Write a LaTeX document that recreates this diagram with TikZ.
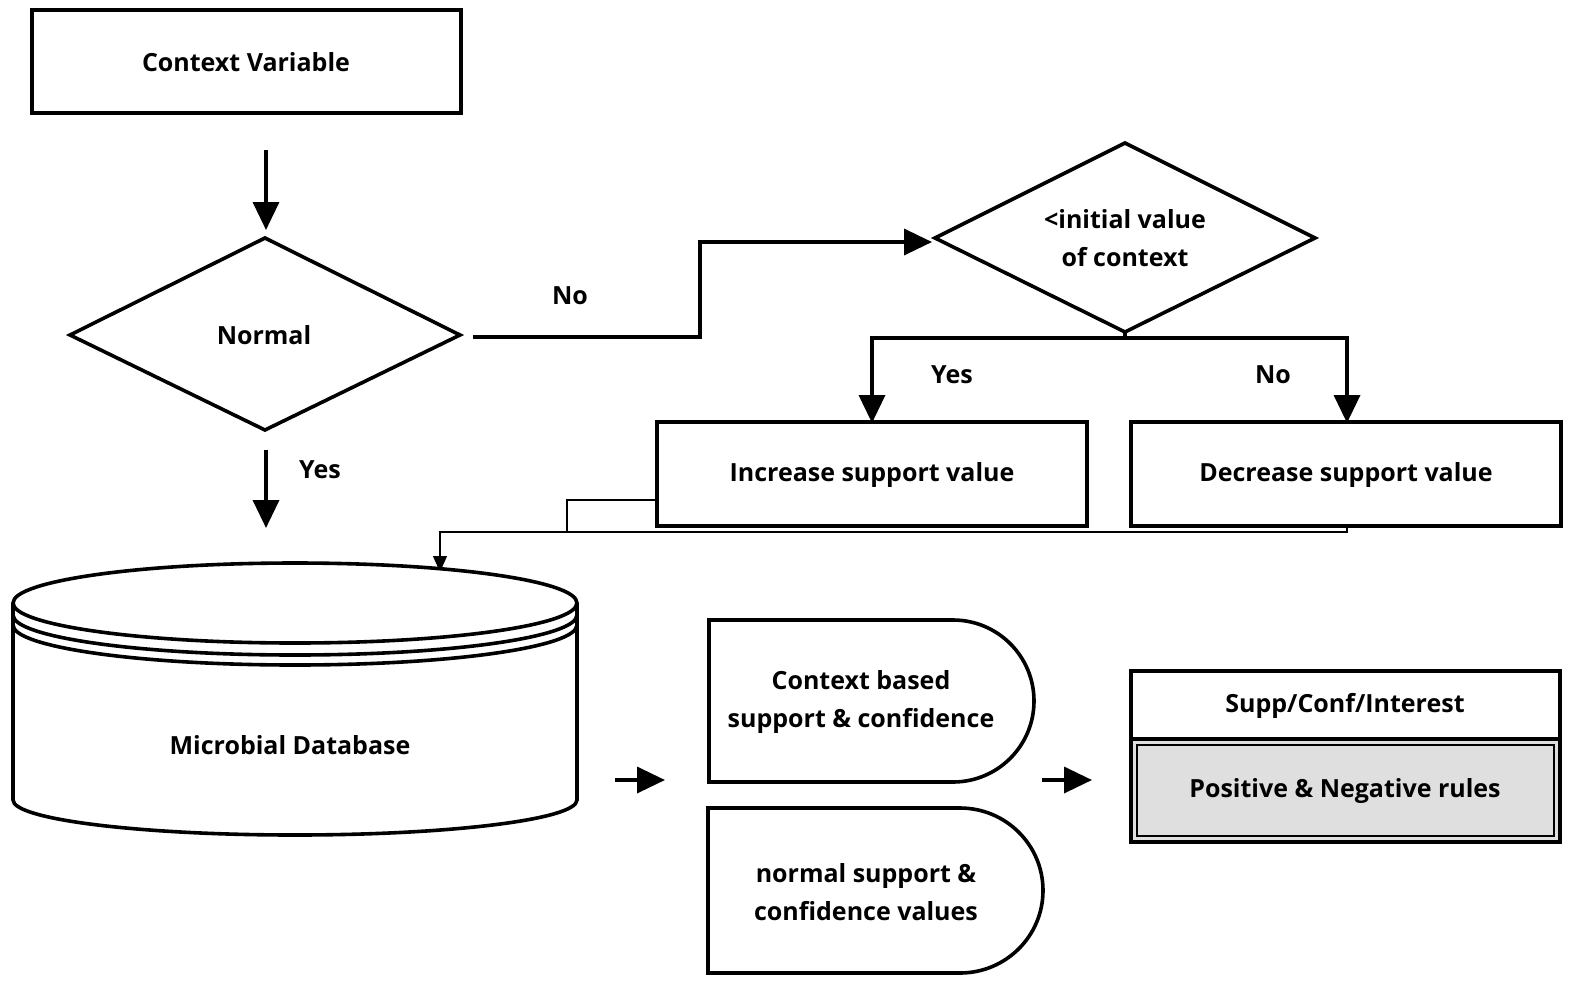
\documentclass[tikz,border=0pt]{standalone}
\usepackage{fontspec}
\setmainfont{Open Sans}
\usetikzlibrary{arrows.meta}
\begin{document}
\begin{tikzpicture}[x=0.5pt,y=-0.5pt,
  box/.style={draw,line width=1.8pt},
  lbl/.style={font=\fontsize{12.5}{19}\selectfont\bfseries,align=center},
  arr/.style={line width=1.8pt,-{Triangle[length=14pt,width=13pt]}},
  thin/.style={line width=0.6pt}]
\useasboundingbox (0,0) rectangle (1575,986);
\draw[box] (32,10) rectangle (461,113);
\node[lbl] (cv) at (246,62) {Context Variable};
\coordinate (a1) at (266,150); \coordinate (a2) at (266,230);
\draw[arr] (a1) -- (a2);
\draw[box] (70,335) -- (265,238) -- (460,335) -- (265,430) -- cycle;
\node[lbl] (normal) at (264,335) {Normal};
\coordinate (n1) at (473,337); \coordinate (n2) at (932,242);
\draw[arr] (n1) -- (700,337) -- (700,242) -- (n2);
\node[lbl] (no1) at (570,296) {No};
\draw[box] (935,238) -- (1125,143) -- (1315,238) -- (1125,332) -- cycle;
\node[lbl] (iv) at (1125,238) {<initial value\\of context};
\coordinate (b0) at (1125,332);
\coordinate (b1) at (872,423); \coordinate (b2) at (1347,423);
\draw[line width=1.8pt] (b0) -- (1125,338);
\draw[arr] (1125,338) -| (b1);
\draw[arr] (1125,338) -| (b2);
\node[lbl] (yes2) at (952,375) {Yes};
\node[lbl] (no2) at (1273,375) {No};
\draw[box] (657,422) rectangle (1087,526);
\node[lbl] (inc) at (872,475) {Increase support value};
\draw[box] (1131,422) rectangle (1561,526);
\node[lbl] (dec) at (1346,475) {Decrease support value};
\coordinate (t1) at (657,500); \coordinate (t2) at (1347,526); \coordinate (t3) at (440,572);
\draw[thin] (t1) -- (567,500) -- (567,532);
\draw[thin,-{Triangle[length=8pt,width=7pt]}] (t2) -- (1347,532) -- (440,532) -- (t3);
\coordinate (y1) at (266,450); \coordinate (y2) at (266,528);
\draw[arr] (y1) -- (y2);
\node[lbl] (yes1) at (320,470) {Yes};
% cylinder
\draw[line width=1.8pt] (13,603) -- (13,800) arc[start angle=180,end angle=0,x radius=282,y radius=35] -- (577,603);
\draw[line width=1.8pt] (13,615) arc[start angle=180,end angle=0,x radius=282,y radius=40];
\draw[line width=1.8pt] (13,625) arc[start angle=180,end angle=0,x radius=282,y radius=40];
\draw[line width=1.8pt,fill=white] (295,603) ellipse[x radius=282,y radius=40];
\node[lbl] (db) at (290,745) {Microbial Database};
\coordinate (c1) at (615,780); \coordinate (c2) at (665,780);
\draw[arr] (c1) -- (c2);
\draw[box] (709,620) -- (953,620) arc[start angle=-90,end angle=90,radius=81] -- (709,782) -- cycle;
\node[lbl] (cb) at (861,702) {Context based\\support \& confidence};
\draw[box] (708,808) -- (960,808) arc[start angle=-90,end angle=90,x radius=83,y radius=82.5] -- (708,973) -- cycle;
\node[lbl] (ns) at (866,892) {normal support \&\\confidence values};
\coordinate (d1) at (1042,780); \coordinate (d2) at (1092,780);
\draw[arr] (d1) -- (d2);
\draw[box] (1131,671) rectangle (1560,739);
\node[lbl] (sc) at (1345,706) {Supp/Conf/Interest};
\draw[box,fill=gray!25] (1131,739) rectangle (1560,842);
\draw[line width=0.8pt] (1137,745) rectangle (1554,836);
\node[lbl] (pn) at (1345,791) {Positive \& Negative rules};
\end{tikzpicture}
\end{document}
